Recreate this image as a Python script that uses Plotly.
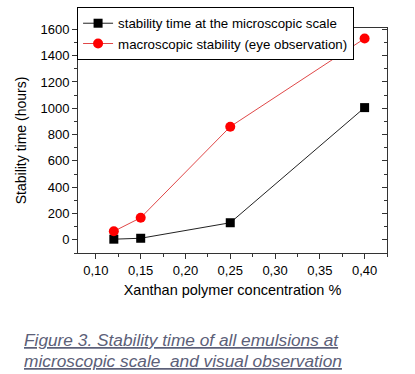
import plotly.graph_objects as go

conc = [0.12, 0.15, 0.25, 0.40]
micro = [5, 12, 130, 1005]
macro = [65, 168, 860, 1530]

name_micro = "stability time at the microscopic scale"
name_macro = "macroscopic stability (eye observation)"
x_title = "Xanthan polymer concentration %"
y_title = "Stability time (hours)"
caption_lines = ["Figure 3. Stability time of all emulsions at",
                 "microscopic scale  and visual observation"]

FONT = "Liberation Sans, Arial, sans-serif"

fig = go.Figure()
fig.add_trace(go.Scatter(x=conc, y=micro, name=name_micro, mode="lines+markers",
                         line=dict(color="#222222", width=1),
                         marker=dict(symbol="square", size=9, color="black")))
fig.add_trace(go.Scatter(x=conc, y=macro, name=name_macro, mode="lines+markers",
                         line=dict(color="#e04848", width=1),
                         marker=dict(symbol="circle", size=10, color="#ff0000")))

xr = [0.08, 0.425]
yr = [-100, 1610]

fig.update_layout(
    width=415, height=374,
    margin=dict(l=78, r=28, t=28, b=121, autoexpand=False),
    paper_bgcolor="white", plot_bgcolor="white",
    separators=",.",
    font=dict(family=FONT, color="black"),
    showlegend=True,
    legend=dict(x=-0.003, y=1.093, xanchor="left", yanchor="top",
                bordercolor="black", borderwidth=1, bgcolor="white",
                font=dict(size=13.3, family=FONT), tracegroupgap=0,
                itemwidth=30),
    xaxis=dict(range=xr, tickvals=[0.10, 0.15, 0.20, 0.25, 0.30, 0.35, 0.40],
               tickformat=".2f", showline=True, linecolor="#333333", linewidth=1,
               mirror=True, ticks="outside", ticklen=5, tickcolor="#333333",
               minor=dict(dtick=0.025, tick0=0.1, ticks="outside", ticklen=3, tickcolor="#333333"),
               showgrid=False, zeroline=False, automargin=False,
               tickfont=dict(size=13),
               title=dict(text=x_title, font=dict(size=14.5), standoff=8)),
    yaxis=dict(range=yr, tickvals=[0, 200, 400, 600, 800, 1000, 1200, 1400, 1600],
               tickformat="d", showline=True, linecolor="#333333", linewidth=1,
               mirror=True, ticks="outside", ticklen=5, tickcolor="#333333",
               minor=dict(dtick=100, tick0=0, ticks="outside", ticklen=3, tickcolor="#333333"),
               showgrid=False, zeroline=False, automargin=False,
               tickfont=dict(size=13),
               title=dict(text=y_title, font=dict(size=14), standoff=10)),
    yaxis2=dict(range=yr, overlaying="y", side="right", showticklabels=False,
                tickvals=[0, 200, 400, 600, 800, 1000, 1200, 1400, 1600],
                ticks="inside", ticklen=5, tickcolor="#333333",
                minor=dict(dtick=100, tick0=0, ticks="inside", ticklen=3, tickcolor="#333333"),
                showgrid=False, zeroline=False, showline=False, automargin=False),
)

fig.add_trace(go.Scatter(x=[None], y=[None], yaxis="y2", showlegend=False, hoverinfo="skip"))

cap_font = dict(family=FONT, size=17.3, color="#5c6078", style="italic", lineposition="under")
for line, py in zip(caption_lines, [-0.385, -0.478]):
    fig.add_annotation(text=line, xref="paper", yref="paper", x=-0.182, y=py,
                       xanchor="left", yanchor="middle", align="left", showarrow=False,
                       font=cap_font)

fig.write_html("out.html", config={"displayModeBar": False},
               post_script="document.body.style.margin='0';document.body.style.overflow='hidden';")
